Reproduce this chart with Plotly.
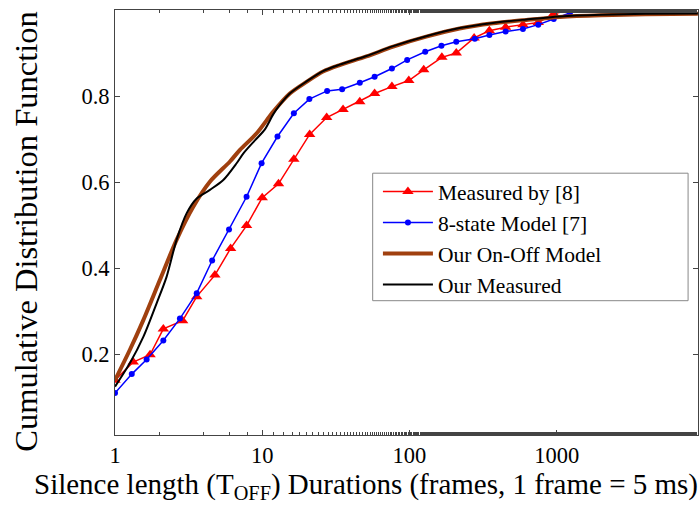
import plotly.graph_objects as go

# ---- data ----
x_meas8 = [1, 1.33, 1.73, 2.13, 2.88, 3.59, 4.77, 6.10, 7.83, 10.0, 12.9, 16.4, 21.0, 27.4, 35.4,
           46, 58, 76, 99, 125, 166, 208, 275, 349, 450, 590, 750, 955, 1230]
y_meas8 = [0.140, 0.182, 0.199, 0.259, 0.278, 0.334, 0.384, 0.446, 0.499, 0.564, 0.596, 0.653,
           0.711, 0.750, 0.769, 0.787, 0.806, 0.822, 0.836, 0.861, 0.890, 0.900, 0.935, 0.952,
           0.960, 0.966, 0.971, 0.991, 1.000]

x_8state = [1, 1.30, 1.64, 2.13, 2.76, 3.59, 4.57, 5.95, 7.83, 9.9, 12.7, 16.4, 20.9, 27.6, 34.9,
            46, 58, 76, 96.5, 128, 165, 208, 278, 349, 450, 590, 750, 955, 1230]
y_8state = [0.110, 0.154, 0.188, 0.232, 0.283, 0.342, 0.418, 0.490, 0.566, 0.644, 0.706, 0.760,
            0.793, 0.812, 0.816, 0.831, 0.845, 0.864, 0.884, 0.903, 0.917, 0.926, 0.933, 0.942,
            0.950, 0.956, 0.966, 0.979, 0.993]

x_model = [1, 1.26, 1.56, 2.02, 2.62, 3.4, 4.41, 6.04, 7.06, 9.14, 11.9, 15.4, 20, 25.9, 33.6,
           51, 77.6, 130, 219, 370, 623, 1050, 2000, 4000, 9100]
y_model = [0.140, 0.210, 0.280, 0.373, 0.466, 0.543, 0.601, 0.648, 0.675, 0.713, 0.764, 0.806,
           0.833, 0.857, 0.872, 0.892, 0.915, 0.938, 0.957, 0.969, 0.977, 0.984, 0.988, 0.990, 0.991]

x_ours = [1, 1.26, 1.56, 1.92, 2.24, 2.62, 3.07, 3.59, 4.41, 5.44, 6.7, 7.45, 8.92, 10.4, 11.9,
          13.2, 15.4, 20, 25.9, 33.6, 51, 77.6, 130, 219, 370, 623, 1050, 2000, 4000, 9100]
y_ours = [0.125, 0.179, 0.241, 0.319, 0.380, 0.466, 0.528, 0.562, 0.582, 0.605, 0.644, 0.667,
          0.697, 0.722, 0.758, 0.780, 0.806, 0.834, 0.858, 0.873, 0.893, 0.916, 0.939, 0.958,
          0.970, 0.978, 0.985, 0.989, 0.991, 0.992]

x_tickvals = [1, 10, 100, 1000]
x_ticktext = ["1", "10", "100", "1000"]
y_tickvals = [0.2, 0.4, 0.6, 0.8, 1.0]
y_ticktext = ["0.2", "0.4", "0.6", "0.8", "1"]

FONT = "Liberation Serif"

fig = go.Figure()
fig.add_trace(go.Scatter(x=x_meas8, y=y_meas8, mode="lines+markers", name="Measured by [8]",
                         line=dict(color="#ff0000", width=1.5),
                         marker=dict(symbol="triangle-up", size=10, color="#ff0000")))
fig.add_trace(go.Scatter(x=x_8state, y=y_8state, mode="lines+markers", name="8-state Model [7]",
                         line=dict(color="#0000ff", width=1.5),
                         marker=dict(symbol="circle", size=6, color="#0000ff")))
fig.add_trace(go.Scatter(x=x_model, y=y_model, mode="lines", name="Our On-Off Model",
                         line=dict(color="#a0400f", width=4, shape="spline", smoothing=0.8)))
fig.add_trace(go.Scatter(x=x_ours, y=y_ours, mode="lines", name="Our Measured",
                         line=dict(color="#000000", width=2, shape="spline", smoothing=0.8)))

axis_common = dict(showgrid=False, zeroline=False, showline=True, linecolor="#444444",
                   linewidth=1, mirror="ticks", ticks="inside", tickcolor="#444444",
                   tickfont=dict(family=FONT, size=22.5, color="#000000"))

fig.update_xaxes(type="log", range=[0, 3.96], tickvals=x_tickvals, ticktext=x_ticktext,
                 ticklen=5,
                 minor=dict(ticks="inside", ticklen=3, tickcolor="#444444", showgrid=False),
                 **axis_common)
fig.update_yaxes(range=[0.0125, 1.0], tickvals=y_tickvals, ticktext=y_ticktext, ticklen=5,
                 **axis_common)

fig.add_annotation(text="Cumulative Distribution Function", textangle=-90,
                   xref="paper", yref="paper", x=-0.153, y=0.48, showarrow=False,
                   xanchor="center", yanchor="middle",
                   font=dict(family=FONT, size=32.5, color="#000000"))
fig.add_annotation(text="Silence length (T<sub>OFF</sub>) Durations (frames, 1 frame = 5 ms)",
                   xref="paper", yref="paper", x=0.43, y=-0.121, showarrow=False,
                   xanchor="center", yanchor="middle",
                   font=dict(family=FONT, size=29, color="#000000"))

# legend frame (drawn as a shape so its extent matches the reference)
fig.add_shape(type="rect", xref="paper", yref="paper", x0=0.442, x1=0.983, y0=0.316, y1=0.616,
              line=dict(color="#888888", width=1), fillcolor="white", layer="below")

fig.update_layout(
    width=700, height=510,
    margin=dict(l=115, r=2, t=10, b=75),
    paper_bgcolor="white", plot_bgcolor="white",
    showlegend=True,
    legend=dict(x=0.451, y=0.621, xanchor="left", yanchor="top",
                bgcolor="rgba(0,0,0,0)", borderwidth=0,
                font=dict(family=FONT, size=21.5, color="#000000"),
                itemwidth=50, tracegroupgap=0),
)

fig.write_html("out.html")
